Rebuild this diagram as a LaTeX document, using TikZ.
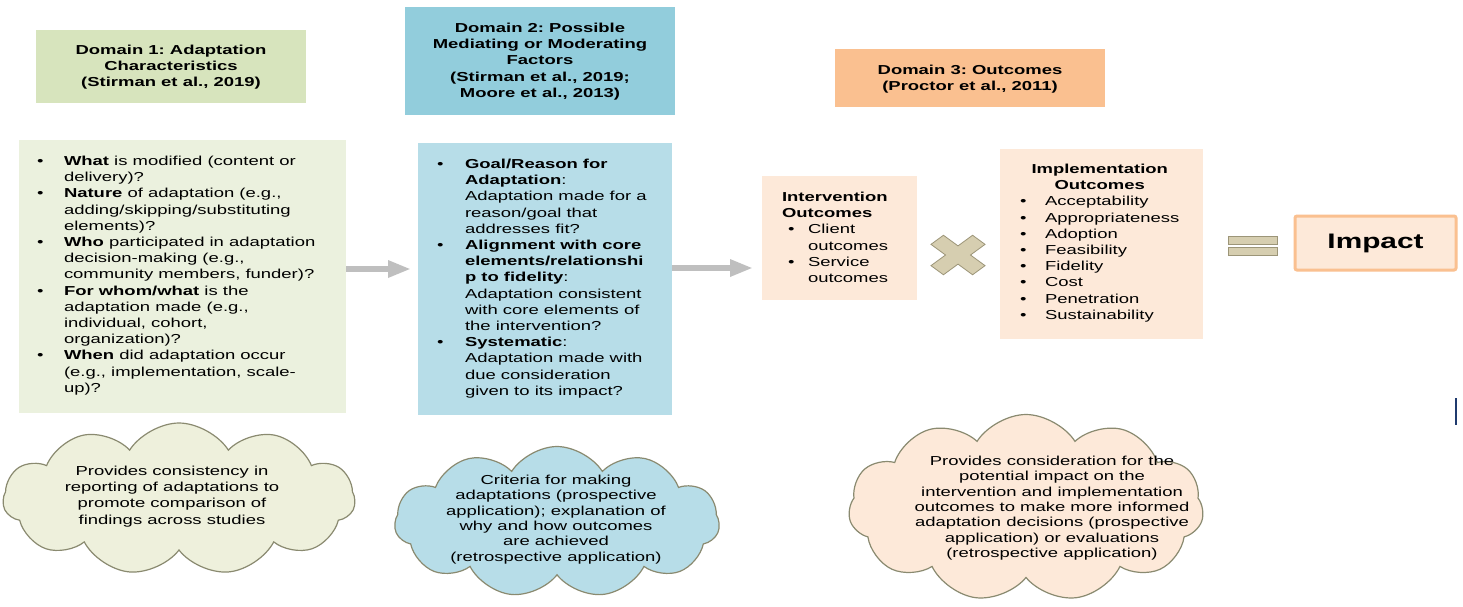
\documentclass[tikz,border=0pt]{standalone}
\usepackage{fontspec}
\setmainfont{Liberation Sans}[FakeStretch=1.42]
\usetikzlibrary{shapes.symbols,arrows.meta}
\definecolor{hdrA}{HTML}{D7E4BD}
\definecolor{hdrB}{HTML}{92CDDC}
\definecolor{hdrC}{HTML}{FAC090}
\definecolor{boxA}{HTML}{EBF1DE}
\definecolor{boxB}{HTML}{B7DDE8}
\definecolor{boxC}{HTML}{FDE9D9}
\definecolor{arrowgray}{HTML}{BFBFBF}
\definecolor{symfill}{HTML}{D6CEB0}
\definecolor{symedge}{HTML}{9C9578}
\definecolor{cloudedge}{HTML}{8A8A70}
\definecolor{cloudA}{HTML}{EEF0DC}
\definecolor{navyline}{HTML}{1F3A6E}
\newcommand{\txt}{\fontsize{13}{16.2}\selectfont}
\newcommand{\ctxt}{\fontsize{13}{15.3}\selectfont}
\frenchspacing
\begin{document}
\frenchspacing
\begin{tikzpicture}[x=1pt,y=-1pt,
  panel/.style={draw=none,inner sep=0pt,outer sep=0pt,anchor=north west},
  label/.style={inner sep=0pt,outer sep=0pt,font=\txt},
  cloudshape/.style={cloud,cloud puffs=11,cloud puff arc=115,draw=cloudedge,line width=1.2pt,inner sep=0pt,outer sep=0pt},
  bigarrow/.style={draw=arrowgray,line width=6pt,-{Triangle[length=23pt,width=16pt]}},
  symbol/.style={fill=symfill,draw=symedge,line width=0.8pt}]
\fill[white] (0,0) rectangle (1463,606);
\useasboundingbox (0,0) rectangle (1463,606);

% headers
\node[panel,fill=hdrA,minimum width=270,minimum height=73] (h1) at (36,30) {};
\node[panel,fill=hdrB,minimum width=270,minimum height=108] (h2) at (405,7) {};
\node[panel,fill=hdrC,minimum width=270,minimum height=58] (h3) at (835,49) {};
\node[label,font=\txt\bfseries,anchor=base] (t1) at (171,54.5)
 {\begin{tabular}[t]{@{}c@{}}Domain 1: Adaptation\\Characteristics\\(Stirman et al., 2019)\end{tabular}};
\node[label,font=\txt\bfseries,anchor=base] (t2) at (540,32.5)
 {\begin{tabular}[t]{@{}c@{}}Domain 2: Possible\\Mediating or Moderating\\Factors\\(Stirman et al., 2019;\\Moore et al., 2013)\end{tabular}};
\node[label,font=\txt\bfseries,anchor=base] (t3) at (970,74.5)
 {\begin{tabular}[t]{@{}c@{}}Domain 3: Outcomes\\(Proctor et al., 2011)\end{tabular}};

% content boxes
\node[panel,fill=boxA,minimum width=327,minimum height=273] (b1) at (19,140) {};
\node[panel,fill=boxB,minimum width=254,minimum height=272] (b2) at (418,143) {};
\node[panel,fill=boxC,minimum width=155,minimum height=124] (io) at (762,176) {};
\node[panel,fill=boxC,minimum width=203,minimum height=190] (im) at (1000,149) {};
\node[panel,fill=boxC,draw=hdrC,line width=3pt,rounded corners=2pt,minimum width=161,minimum height=54] (impact) at (1295,216) {};

\node[label,anchor=base west] (l1) at (37,165.5)
 {\begin{tabular}[t]{@{}p{27pt}@{}l@{}}
 \textbullet & \textbf{What} is modified (content or\\
  & delivery)?\\
 \textbullet & \textbf{Nature} of adaptation (e.g.,\\
  & adding/skipping/substituting\\
  & elements)?\\
 \textbullet & \textbf{Who} participated in adaptation\\
  & decision-making (e.g.,\\
  & community members, funder)?\\
 \textbullet & \textbf{For whom/what} is the\\
  & adaptation made (e.g.,\\
  & individual, cohort,\\
  & organization)?\\
 \textbullet & \textbf{When} did adaptation occur\\
  & (e.g., implementation, scale-\\
  & up)?
 \end{tabular}};

\node[label,anchor=base west] (l2) at (437,168.5)
 {\begin{tabular}[t]{@{}p{28pt}@{}l@{}}
 \textbullet & \textbf{Goal/Reason for}\\
  & \textbf{Adaptation}:\\
  & Adaptation made for a\\
  & reason/goal that\\
  & addresses fit?\\
 \textbullet & \textbf{Alignment with core}\\
  & \textbf{elements/relationshi}\\
  & \textbf{p to fidelity}:\\
  & Adaptation consistent\\
  & with core elements of\\
  & the intervention?\\
 \textbullet & \textbf{Systematic}:\\
  & Adaptation made with\\
  & due consideration\\
  & given to its impact?
 \end{tabular}};

\node[label,anchor=base west] (l3) at (782,201.5)
 {\begin{tabular}[t]{@{}p{26pt}@{}l@{}}
 \multicolumn{2}{@{}l@{}}{\textbf{Intervention}}\\
 \multicolumn{2}{@{}l@{}}{\textbf{Outcomes}}\\
 \hspace*{6pt}\textbullet & Client\\
  & outcomes\\
 \hspace*{6pt}\textbullet & Service\\
  & outcomes
 \end{tabular}};

\node[label,anchor=base west] (l4) at (1020,173.5)
 {\begin{tabular}[t]{@{}p{25pt}@{}l@{}}
 \multicolumn{2}{@{}c@{}}{\textbf{Implementation}}\\
 \multicolumn{2}{@{}c@{}}{\textbf{Outcomes}}\\
 \textbullet & Acceptability\\
 \textbullet & Appropriateness\\
 \textbullet & Adoption\\
 \textbullet & Feasibility\\
 \textbullet & Fidelity\\
 \textbullet & Cost\\
 \textbullet & Penetration\\
 \textbullet & Sustainability
 \end{tabular}};

\node[label,font=\fontsize{21}{25}\selectfont\bfseries] (imptext) at (impact.center) {Impact};

% arrows
\coordinate (a1) at (0,269);
\coordinate (a2) at (0,268);
\draw[bigarrow,shorten >=7pt] (b1.east |- a1) -- (b2.west |- a1);
\draw[bigarrow,shorten >=9pt] (b2.east |- a2) -- (io.west |- a2);

% multiply symbol
\begin{scope}[shift={(958,255)},xscale=26,yscale=19]
\draw[symbol] (0,0.48) -- (0.56,1.04) -- (1.04,0.56) -- (0.48,0) -- (1.04,-0.56) -- (0.56,-1.04)
 -- (0,-0.48) -- (-0.56,-1.04) -- (-1.04,-0.56) -- (-0.48,0) -- (-1.04,0.56) -- (-0.56,1.04) -- cycle;
\end{scope}
% equals symbol
\draw[symbol] (1228,236) rectangle (1277,244);
\draw[symbol] (1228,247) rectangle (1277,255);

% clouds
\node[cloudshape,fill=cloudA,minimum width=352,minimum height=152,aspect=2.3] (c1) at (179,499) {};
\node[cloudshape,fill=boxB,minimum width=325,minimum height=151,aspect=2.15] (c2) at (557,522) {};
\node[cloudshape,fill=boxC,minimum width=355,minimum height=187,aspect=1.9] (c3) at (1026,508) {};

\node[label,anchor=base] (ct1) at (172,475.5)
 {\begin{tabular}[t]{@{}c@{}}Provides consistency in\\reporting of adaptations to\\promote comparison of\\findings across studies\end{tabular}};
\node[label,font=\ctxt,anchor=base] (ct2) at (556,484.5)
 {\begin{tabular}[t]{@{}c@{}}Criteria for making\\adaptations (prospective\\application); explanation of\\why and how outcomes\\are achieved\\(retrospective application)\end{tabular}};
\node[label,font=\ctxt,anchor=base] (ct3) at (1052,465.5)
 {\begin{tabular}[t]{@{}c@{}}Provides consideration for the\\potential impact on the\\intervention and implementation\\outcomes to make more informed\\adaptation decisions (prospective\\application) or evaluations\\(retrospective application)\end{tabular}};

\draw[navyline,line width=1.5pt] (1456,398) -- (1456,425);
\end{tikzpicture}
\end{document}
